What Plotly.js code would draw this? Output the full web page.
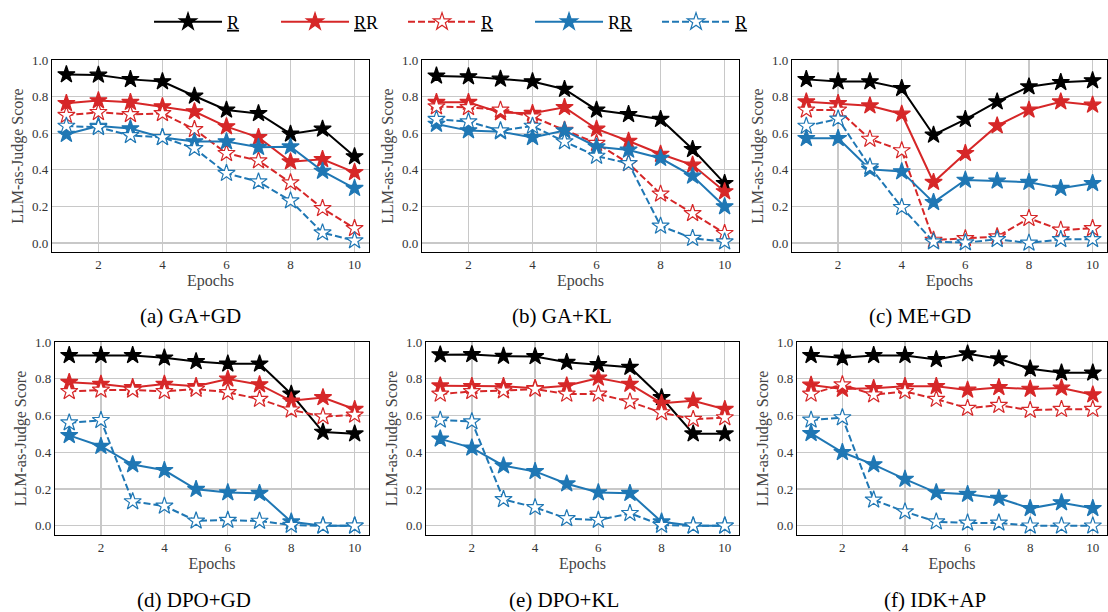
<!DOCTYPE html>
<html><head><meta charset="utf-8">
<script src="https://cdn.plot.ly/plotly-3.0.1.min.js"></script>
<style>html,body{margin:0;padding:0;background:#fff}#chart{width:1108px;height:612px}</style>
</head><body><div id="chart"></div>
<script>
const epochs = [1,2,3,4,5,6,7,8,9,10];
const captions = ['(a) GA+GD','(b) GA+KL','(c) ME+GD','(d) DPO+GD','(e) DPO+KL','(f) IDK+AP'];
const seriesLabels = ['<u>R</u>','<u>R</u>R','<u>R</u>','R<u>R</u>','<u>R</u>'];
const yTickVals = [0,0.2,0.4,0.6,0.8,1.0];
const xTickVals = [2,4,6,8,10];

// each panel: [black R, red RR solid, red R dashed, blue RR solid, blue R dashed]
const gaGd = [
  [0.92,0.918,0.894,0.882,0.803,0.727,0.708,0.596,0.623,0.472],
  [0.763,0.778,0.769,0.745,0.718,0.636,0.577,0.444,0.457,0.386],
  [0.698,0.714,0.703,0.708,0.621,0.49,0.45,0.33,0.189,0.08],
  [0.594,0.639,0.625,0.577,0.554,0.554,0.523,0.526,0.393,0.299],
  [0.639,0.632,0.588,0.577,0.517,0.381,0.335,0.231,0.056,0.013]
];
const gaKl = [
  [0.913,0.909,0.896,0.882,0.84,0.727,0.703,0.676,0.512,0.326],
  [0.769,0.769,0.712,0.709,0.741,0.623,0.557,0.486,0.426,0.281],
  [0.745,0.741,0.727,0.69,0.617,0.545,0.435,0.268,0.162,0.053],
  [0.65,0.614,0.608,0.577,0.614,0.526,0.508,0.463,0.366,0.199],
  [0.676,0.663,0.614,0.639,0.554,0.475,0.435,0.093,0.026,0.007]
];
const meGd = [
  [0.894,0.882,0.882,0.845,0.59,0.676,0.772,0.854,0.878,0.887],
  [0.772,0.763,0.75,0.705,0.332,0.49,0.641,0.727,0.772,0.754],
  [0.727,0.727,0.568,0.505,0.016,0.025,0.035,0.135,0.071,0.08],
  [0.572,0.572,0.403,0.39,0.222,0.344,0.339,0.332,0.299,0.326],
  [0.639,0.678,0.417,0.195,0.007,0.002,0.02,0.0,0.02,0.02]
];
const dpoGd = [
  [0.927,0.927,0.927,0.914,0.894,0.881,0.881,0.717,0.51,0.501],
  [0.781,0.771,0.753,0.771,0.759,0.799,0.768,0.68,0.698,0.634],
  [0.731,0.739,0.739,0.731,0.744,0.726,0.689,0.631,0.594,0.603],
  [0.492,0.433,0.333,0.302,0.199,0.181,0.177,0.022,0.0,0.0],
  [0.561,0.574,0.132,0.108,0.027,0.031,0.026,0.004,0.0,0.0]
];
const dpoKl = [
  [0.931,0.932,0.923,0.921,0.89,0.878,0.863,0.698,0.501,0.501],
  [0.762,0.759,0.759,0.748,0.762,0.804,0.771,0.667,0.68,0.634],
  [0.717,0.731,0.735,0.744,0.717,0.717,0.675,0.616,0.58,0.589],
  [0.473,0.424,0.327,0.296,0.229,0.181,0.177,0.022,0.0,0.0],
  [0.576,0.567,0.144,0.1,0.04,0.031,0.068,0.004,0.0,0.0]
];
const idkAp = [
  [0.927,0.914,0.927,0.927,0.905,0.936,0.909,0.854,0.832,0.832],
  [0.766,0.744,0.748,0.759,0.759,0.739,0.753,0.744,0.75,0.713],
  [0.717,0.768,0.713,0.731,0.689,0.64,0.656,0.629,0.634,0.634],
  [0.503,0.4,0.333,0.254,0.181,0.172,0.15,0.095,0.126,0.095],
  [0.576,0.589,0.141,0.077,0.022,0.016,0.016,0.0,0.0,0.0]
];
const panelData = [gaGd, gaKl, meGd, dpoGd, dpoKl, idkAp];

const styles = [
  {color:'#000000', dash:'solid', fill:'#000000'},
  {color:'#d62728', dash:'solid', fill:'#d62728'},
  {color:'#d62728', dash:'7px,3px', fill:'#ffffff'},
  {color:'#1f77b4', dash:'solid', fill:'#1f77b4'},
  {color:'#1f77b4', dash:'7px,3px', fill:'#ffffff'}
];

const xDomains = [[0.0469,0.333],[0.3809,0.667],[0.7148,0.999],[0.0496,0.333],[0.3845,0.667],[0.7193,0.999]];
const yDomains = [[0.588,0.902],[0.588,0.902],[0.588,0.902],[0.1258,0.4412],[0.1258,0.4412],[0.1258,0.4412]];
const capX = [190,562,920,194,564,935];

const traces = [];
const layout = {
  width:1108, height:612, margin:{l:0,r:0,t:0,b:0},
  paper_bgcolor:'#ffffff', plot_bgcolor:'#ffffff',
  font:{family:'Liberation Serif, serif', color:'#333333'},
  showlegend:true,
  legend:{orientation:'h', x:0.1345, xanchor:'left', y:0.964, yanchor:'middle',
    font:{family:'Liberation Serif, serif', size:18, color:'#000000'},
    itemwidth:68, entrywidth:44, entrywidthmode:'pixels', traceorder:'normal', bgcolor:'rgba(0,0,0,0)'},
  annotations:[]
};

panelData.forEach((series, p) => {
  const sfx = p === 0 ? '' : String(p+1);
  series.forEach((vals, s) => {
    const st = styles[s];
    traces.push({
      x: epochs, y: vals, type:'scatter', mode:'lines+markers',
      xaxis:'x'+sfx, yaxis:'y'+sfx,
      name: seriesLabels[s], showlegend: p === 0,
      line:{color:st.color, width:2, dash:st.dash},
      marker:{symbol:'star', size:13, color:st.fill, line:{color:st.color, width:1.2}},
      hoverinfo:'skip'
    });
  });
  const ax = {
    domain:xDomains[p], anchor:'y'+sfx, range:[0.55,10.45],
    tickvals:xTickVals, ticks:'', showgrid:true, gridcolor:'#c8c8c8', gridwidth:1.3,
    showline:true, mirror:true, linecolor:'#000000', linewidth:1.2, zeroline:false,
    tickfont:{family:'Liberation Serif, serif', size:13, color:'#333333'},
    title:{text:'Epochs', font:{family:'Liberation Serif, serif', size:16, color:'#444444'}, standoff:1}
  };
  const ay = {
    domain:yDomains[p], anchor:'x'+sfx, range:[-0.05,1.0],
    tickvals:yTickVals, tickformat:'.1f', ticks:'', showgrid:true, gridcolor:'#c8c8c8', gridwidth:1.3,
    showline:true, mirror:true, linecolor:'#000000', linewidth:1.2, zeroline:false,
    tickfont:{family:'Liberation Serif, serif', size:13, color:'#333333'},
    title:{text:'LLM-as-Judge Score', font:{family:'Liberation Serif, serif', size:16, color:'#444444'}, standoff:4}
  };
  layout['xaxis'+sfx] = ax;
  layout['yaxis'+sfx] = ay;
  layout.annotations.push({
    text:captions[p], xref:'paper', yref:'paper', x:capX[p]/1108, y: p < 3 ? (612-316)/612 : (612-600)/612,
    xanchor:'center', yanchor:'middle', showarrow:false,
    font:{family:'Liberation Serif, serif', size:21, color:'#000000'}
  });
});

Plotly.newPlot('chart', traces, layout, {staticPlot:true});
</script></body></html>
